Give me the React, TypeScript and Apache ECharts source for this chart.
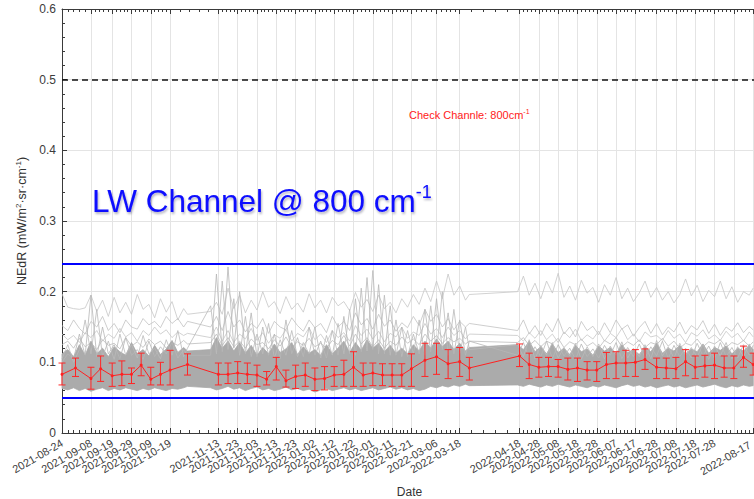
import { useEffect, useRef } from 'react';
import * as echarts from 'echarts';

const FONT = '"Liberation Sans", Arial, Helvetica, sans-serif';
const START_UTC = Date.UTC(2021, 7, 24);
const DAY_MS = 86400000;

// ---- axes ----
const xTickDates = ['2021-08-24','2021-09-08','2021-09-19','2021-09-29','2021-10-09','2021-10-19','2021-11-13','2021-11-23','2021-12-03','2021-12-13','2021-12-23','2022-01-02','2022-01-12','2022-01-22','2022-02-01','2022-02-11','2022-02-21','2022-03-06','2022-03-18','2022-04-18','2022-04-28','2022-05-08','2022-05-18','2022-05-28','2022-06-07','2022-06-17','2022-06-28','2022-07-08','2022-07-18','2022-07-28','2022-08-07','2022-08-17'];
const xMaxDay = 360;
const yMin = 0;
const yMax = 0.6;
const yStep = 0.1;

// ---- red mean with error bars ----
const redDates = ['2021-08-24','2021-08-31','2021-09-08','2021-09-13','2021-09-19','2021-09-24','2021-09-29','2021-10-04','2021-10-09','2021-10-14','2021-10-19','2021-10-28','2021-11-13','2021-11-18','2021-11-23','2021-11-28','2021-12-03','2021-12-08','2021-12-13','2021-12-18','2021-12-23','2021-12-28','2022-01-02','2022-01-07','2022-01-12','2022-01-17','2022-01-22','2022-01-27','2022-02-01','2022-02-06','2022-02-11','2022-02-16','2022-02-21','2022-02-28','2022-03-06','2022-03-12','2022-03-18','2022-03-23','2022-04-18','2022-04-23','2022-04-28','2022-05-03','2022-05-08','2022-05-13','2022-05-18','2022-05-23','2022-05-28','2022-06-02','2022-06-07','2022-06-12','2022-06-17','2022-06-22','2022-06-28','2022-07-03','2022-07-08','2022-07-13','2022-07-18','2022-07-23','2022-07-28','2022-08-02','2022-08-07','2022-08-12','2022-08-17'];
const redMean = [0.083,0.092,0.077,0.091,0.081,0.083,0.083,0.096,0.076,0.083,0.089,0.097,0.083,0.083,0.085,0.083,0.082,0.076,0.094,0.074,0.080,0.082,0.076,0.077,0.082,0.083,0.093,0.082,0.085,0.082,0.082,0.082,0.091,0.103,0.108,0.098,0.101,0.092,0.109,0.097,0.093,0.094,0.094,0.090,0.092,0.089,0.089,0.097,0.099,0.099,0.100,0.104,0.093,0.092,0.091,0.101,0.093,0.095,0.096,0.092,0.092,0.107,0.097];
const redHigh = [0.099,0.106,0.093,0.109,0.099,0.102,0.092,0.113,0.093,0.100,0.117,0.112,0.099,0.099,0.101,0.099,0.096,0.087,0.107,0.089,0.096,0.099,0.092,0.094,0.094,0.103,0.115,0.099,0.099,0.098,0.098,0.098,0.112,0.127,0.127,0.118,0.121,0.107,0.126,0.113,0.107,0.107,0.104,0.106,0.106,0.101,0.101,0.114,0.115,0.117,0.118,0.119,0.106,0.106,0.107,0.118,0.109,0.110,0.113,0.109,0.109,0.123,0.113];
const redLow = [0.068,0.080,0.062,0.073,0.066,0.067,0.070,0.081,0.068,0.068,0.068,0.082,0.068,0.070,0.070,0.070,0.066,0.068,0.075,0.065,0.063,0.066,0.060,0.061,0.066,0.066,0.066,0.066,0.067,0.067,0.066,0.066,0.066,0.080,0.083,0.077,0.080,0.075,0.094,0.077,0.079,0.080,0.079,0.075,0.073,0.075,0.073,0.077,0.077,0.080,0.080,0.090,0.077,0.077,0.077,0.081,0.077,0.079,0.077,0.079,0.077,0.093,0.082];

// ---- gray individual records (days since 2021-08-24) ----
const grayDays = [0,3,6,9,12,15,18,21,24,27,30,33,36,39,42,45,48,51,54,57,60,63,65,
  77,80,83,86,89,92,95,98,101,104,107,110,113,116,119,122,125,128,131,134,137,140,143,146,149,152,155,158,161,164,167,170,173,176,179,182,185,188,191,194,197,200,203,206,209,211,
  236,239,242,245,248,251,254,257,260,263,266,269,272,275,278,281,284,287,290,293,296,299,302,305,308,311,314,317,320,323,326,329,332,335,338,341,344,347,350,353,356,358];
const bandLow = [0.063,0.061,0.064,0.060,0.063,0.059,0.062,0.064,0.060,0.063,0.061,0.064,0.062,0.060,0.063,0.061,0.064,0.062,0.060,0.063,0.062,0.064,0.066,
  0.064,0.061,0.063,0.066,0.062,0.064,0.060,0.063,0.065,0.061,0.063,0.060,0.062,0.065,0.061,0.063,0.060,0.062,0.058,0.061,0.063,0.060,0.062,0.064,0.061,0.063,0.060,0.062,0.064,0.061,0.063,0.065,0.062,0.064,0.061,0.063,0.060,0.062,0.066,0.064,0.067,0.065,0.068,0.066,0.069,0.067,
  0.068,0.066,0.069,0.067,0.065,0.068,0.066,0.069,0.067,0.065,0.068,0.066,0.064,0.067,0.065,0.068,0.066,0.064,0.067,0.069,0.066,0.068,0.065,0.067,0.064,0.066,0.068,0.065,0.067,0.064,0.066,0.068,0.065,0.067,0.069,0.066,0.064,0.067,0.065,0.068,0.066,0.067];
const bandHigh = [0.112,0.118,0.108,0.125,0.110,0.130,0.112,0.120,0.108,0.122,0.115,0.110,0.128,0.112,0.118,0.109,0.124,0.111,0.119,0.131,0.114,0.121,0.116,
  0.118,0.135,0.120,0.130,0.116,0.128,0.113,0.124,0.110,0.121,0.112,0.126,0.114,0.119,0.128,0.111,0.122,0.113,0.118,0.110,0.125,0.112,0.120,0.130,0.114,0.128,0.117,0.132,0.120,0.127,0.115,0.124,0.113,0.120,0.112,0.125,0.116,0.130,0.120,0.133,0.122,0.130,0.118,0.127,0.116,0.121,
  0.125,0.118,0.130,0.115,0.122,0.112,0.126,0.114,0.120,0.111,0.124,0.115,0.119,0.110,0.123,0.116,0.121,0.112,0.125,0.114,0.118,0.111,0.122,0.115,0.127,0.113,0.120,0.116,0.124,0.112,0.119,0.115,0.126,0.113,0.121,0.117,0.123,0.112,0.120,0.116,0.124,0.118];
const grayTop = [0.197,0.178,0.176,0.175,0.177,0.195,0.172,0.188,0.165,0.192,0.170,0.185,0.168,0.196,0.175,0.182,0.163,0.190,0.171,0.186,0.160,0.176,0.168,
  0.172,0.185,0.168,0.205,0.176,0.195,0.170,0.188,0.174,0.200,0.178,0.186,0.169,0.193,0.175,0.184,0.171,0.197,0.177,0.188,0.170,0.192,0.180,0.186,0.173,0.199,0.178,0.189,0.172,0.195,0.176,0.185,0.170,0.190,0.178,0.196,0.182,0.205,0.186,0.215,0.190,0.225,0.195,0.208,0.188,0.196,
  0.200,0.222,0.195,0.212,0.190,0.215,0.198,0.226,0.192,0.208,0.188,0.216,0.198,0.206,0.185,0.210,0.195,0.220,0.190,0.205,0.186,0.198,0.215,0.192,0.206,0.188,0.200,0.184,0.196,0.218,0.194,0.209,0.186,0.202,0.193,0.215,0.190,0.207,0.185,0.200,0.195,0.205];
const grayMid1 = [0.152,0.145,0.160,0.148,0.140,0.158,0.150,0.165,0.145,0.155,0.142,0.160,0.150,0.147,0.162,0.153,0.158,0.149,0.165,0.155,0.162,0.150,0.158,
  0.150,0.165,0.145,0.172,0.150,0.160,0.143,0.155,0.148,0.162,0.141,0.158,0.150,0.146,0.163,0.152,0.144,0.160,0.149,0.155,0.142,0.165,0.150,0.158,0.145,0.170,0.153,0.162,0.147,0.168,0.151,0.160,0.144,0.156,0.149,0.165,0.152,0.175,0.158,0.168,0.150,0.162,0.146,0.158,0.150,0.155,
  0.145,0.160,0.140,0.152,0.138,0.155,0.143,0.162,0.140,0.150,0.136,0.158,0.145,0.151,0.139,0.156,0.142,0.160,0.147,0.153,0.137,0.149,0.158,0.141,0.155,0.139,0.150,0.143,0.157,0.140,0.152,0.146,0.159,0.141,0.154,0.138,0.150,0.144,0.156,0.142,0.151,0.146];
const grayMid2 = [0.140,0.132,0.138,0.128,0.142,0.135,0.145,0.130,0.140,0.134,0.148,0.136,0.142,0.130,0.145,0.138,0.150,0.140,0.146,0.135,0.143,0.138,0.141,
  0.135,0.150,0.130,0.145,0.128,0.140,0.133,0.148,0.131,0.142,0.127,0.139,0.134,0.146,0.130,0.141,0.136,0.149,0.132,0.140,0.128,0.145,0.135,0.142,0.130,0.152,0.138,0.147,0.133,0.144,0.129,0.141,0.136,0.150,0.134,0.143,0.138,0.155,0.140,0.148,0.135,0.150,0.138,0.145,0.133,0.140,
  0.138,0.130,0.142,0.134,0.145,0.132,0.140,0.128,0.143,0.135,0.147,0.131,0.139,0.133,0.144,0.130,0.141,0.135,0.148,0.132,0.140,0.129,0.143,0.136,0.138,0.131,0.145,0.134,0.140,0.128,0.142,0.137,0.146,0.133,0.139,0.131,0.144,0.135,0.141,0.130,0.143,0.136];
const grayUpper = [0.125,0.130,0.120,0.134,0.122,0.128,0.118,0.132,0.124,0.127,0.119,0.135,0.123,0.129,0.121,0.133,0.125,0.130,0.120,0.128,0.124,0.131,0.126,
  0.128,0.140,0.124,0.135,0.122,0.130,0.120,0.133,0.125,0.128,0.119,0.132,0.123,0.136,0.121,0.129,0.124,0.134,0.122,0.127,0.120,0.131,0.125,0.138,0.123,0.140,0.126,0.135,0.122,0.132,0.120,0.130,0.124,0.136,0.127,0.133,0.125,0.140,0.130,0.138,0.127,0.135,0.129,0.134,0.126,0.130,
  0.128,0.135,0.124,0.131,0.122,0.130,0.126,0.134,0.121,0.129,0.125,0.133,0.123,0.128,0.120,0.131,0.126,0.135,0.122,0.129,0.124,0.132,0.121,0.128,0.125,0.134,0.123,0.130,0.120,0.127,0.124,0.133,0.122,0.129,0.126,0.132,0.121,0.128,0.125,0.131,0.123,0.129];
const graySpikeA = [0.100,0.112,0.105,0.140,0.110,0.195,0.108,0.150,0.112,0.125,0.105,0.135,0.110,0.118,0.104,0.130,0.108,0.122,0.112,0.128,0.106,0.118,0.110,
  0.110,0.225,0.115,0.235,0.120,0.200,0.112,0.170,0.108,0.150,0.110,0.140,0.105,0.160,0.112,0.135,0.108,0.150,0.110,0.130,0.106,0.145,0.110,0.165,0.112,0.190,0.115,0.220,0.118,0.210,0.112,0.180,0.110,0.150,0.108,0.140,0.112,0.175,0.115,0.190,0.118,0.170,0.112,0.160,0.110,0.130,
  0.110,0.128,0.106,0.122,0.108,0.130,0.105,0.125,0.109,0.120,0.104,0.126,0.108,0.119,0.106,0.124,0.110,0.128,0.105,0.121,0.108,0.126,0.106,0.122,0.109,0.130,0.105,0.124,0.108,0.120,0.106,0.127,0.109,0.123,0.105,0.128,0.108,0.121,0.106,0.125,0.110,0.124];
const graySpikeB = [0.105,0.125,0.100,0.118,0.160,0.112,0.175,0.108,0.130,0.104,0.140,0.110,0.125,0.106,0.138,0.112,0.120,0.105,0.132,0.110,0.145,0.108,0.120,
  0.180,0.112,0.215,0.118,0.190,0.110,0.165,0.108,0.140,0.112,0.155,0.106,0.132,0.110,0.145,0.108,0.128,0.112,0.150,0.106,0.138,0.110,0.155,0.112,0.175,0.110,0.205,0.116,0.230,0.112,0.195,0.110,0.160,0.108,0.145,0.112,0.160,0.110,0.180,0.114,0.200,0.110,0.175,0.112,0.150,0.118,
  0.125,0.108,0.132,0.105,0.124,0.110,0.128,0.106,0.121,0.109,0.127,0.104,0.122,0.108,0.126,0.105,0.123,0.110,0.129,0.106,0.120,0.108,0.125,0.105,0.131,0.109,0.122,0.106,0.127,0.110,0.121,0.107,0.126,0.104,0.123,0.109,0.128,0.105,0.122,0.108,0.126,0.110];

// ---- reference lines ----
const blueLimits = [0.05, 0.237];
const specLimit = 0.5;

const titleText = 'LW Channel @ 800 cm';
const noteText = 'Check Channle: 800cm';

const W = 754;
const H = 499;

function dayOf(s: string): number {
  const [y, m, d] = s.split('-').map(Number);
  return Math.round((Date.UTC(y, m - 1, d) - START_UTC) / DAY_MS);
}
function fmtDay(day: number): string {
  const dt = new Date(START_UTC + Math.round(day) * DAY_MS);
  const mm = String(dt.getUTCMonth() + 1).padStart(2, '0');
  const dd = String(dt.getUTCDate()).padStart(2, '0');
  return `${dt.getUTCFullYear()}-${mm}-${dd}`;
}

export default function App() {
  const ref = useRef<HTMLDivElement>(null);
  useEffect(() => {
    if (!ref.current) return;
    document.body.style.margin = '0';
    const chart = echarts.init(ref.current, undefined, { renderer: 'svg', width: W, height: H });

    const tickDays = xTickDates.map(dayOf);
    const lastTick = tickDays[tickDays.length - 1];
    const minorDays: number[] = [];
    for (let i = 0; i < tickDays.length - 1; i++) {
      const a = tickDays[i], b = tickDays[i + 1];
      for (let k = 1; k < 5; k++) minorDays.push(a + ((b - a) * k) / 5);
    }
    const redDays = redDates.map(dayOf);
    const pairs = (arr: number[]) => grayDays.map((d, i) => [d, arr[i]]);

    const axisColor = '#3a3a3a';
    const baseX = {
      type: 'value' as const,
      min: 0,
      max: xMaxDay,
      splitLine: { show: false },
      axisLabel: { show: false },
    };

    const grayLine = (arr: number[], color: string, extra: any = {}) => ({
      type: 'line',
      data: pairs(arr),
      symbol: 'none',
      silent: true,
      lineStyle: { color, width: 0.8 },
      z: 2,
      ...extra,
    });

    const labelStyle = { fontFamily: FONT, fontSize: 11, color: '#3c3c3c' };

    chart.setOption({
      animation: false,
      backgroundColor: '#ffffff',
      grid: { left: 62, right: -3, top: 9, bottom: 66, containLabel: false, outerBoundsMode: 'none' },
      xAxis: [
        {
          ...baseX,
          position: 'bottom',
          name: 'Date',
          nameLocation: 'middle',
          nameGap: 53,
          nameTextStyle: { fontFamily: FONT, fontSize: 12, color: '#333' },
          axisLine: { show: true, onZero: false, lineStyle: { color: axisColor, width: 1 } },
          axisTick: { show: true, inside: true, length: 5, customValues: tickDays, lineStyle: { color: axisColor } },
          axisLabel: {
            show: true,
            customValues: tickDays,
            showMinLabel: true,
            showMaxLabel: true,
            rotate: 30,
            margin: 9,
            ...labelStyle,
            rich: {
              e: { ...labelStyle, padding: [0, 4, 0, 0] },
            },
            formatter: (v: number) => (Math.round(v) === lastTick ? `{e|${fmtDay(v)}}` : fmtDay(v)),
          },
        },
        {
          ...baseX,
          position: 'bottom',
          axisLine: { show: false, onZero: false },
          axisTick: { show: true, inside: true, length: 3, customValues: minorDays, lineStyle: { color: axisColor } },
        },
        {
          ...baseX,
          position: 'top',
          axisLine: { show: true, onZero: false, lineStyle: { color: axisColor, width: 1 } },
          axisTick: { show: true, inside: true, length: 5, customValues: tickDays, lineStyle: { color: axisColor } },
        },
        {
          ...baseX,
          position: 'top',
          axisLine: { show: false, onZero: false },
          axisTick: { show: true, inside: true, length: 3, customValues: minorDays, lineStyle: { color: axisColor } },
        },
      ],
      yAxis: {
        type: 'value',
        min: yMin,
        max: yMax,
        interval: yStep,
        name: '{a|NEdR (mW/m}{s|2}{a|·sr·cm}{s|-1}{a|)}',
        nameLocation: 'middle',
        nameGap: 25,
        nameTextStyle: {
          fontFamily: FONT,
          color: '#333',
          rich: {
            a: { fontFamily: FONT, fontSize: 12.5, lineHeight: 14, color: '#333' },
            s: { fontFamily: FONT, fontSize: 8, lineHeight: 8, verticalAlign: 'top', color: '#333' },
          },
        },
        axisLine: { show: true, lineStyle: { color: axisColor, width: 1 } },
        axisTick: { show: true, inside: true, length: 5, lineStyle: { color: axisColor } },
        minorTick: { show: true, splitNumber: 5, length: 3, lineStyle: { color: axisColor } },
        axisLabel: {
          fontFamily: FONT,
          fontSize: 12,
          color: '#3c3c3c',
          margin: 6,
          formatter: (v: number) => (v === 0 ? '0' : v.toFixed(1)),
        },
        splitLine: { show: true, lineStyle: { color: '#e4e4e4', width: 1 } },
      },
      graphic: [
        {
          type: 'text',
          z: 50,
          style: {
            x: 92,
            y: 201,
            align: 'left',
            verticalAlign: 'middle',
            text: `{a|${titleText}}{s|-1}`,
            fill: '#0a0aff',
            textShadowColor: 'rgba(0,0,40,0.3)',
            textShadowBlur: 2,
            textShadowOffsetX: 1,
            textShadowOffsetY: 2,
            rich: {
              a: { fontFamily: FONT, fontSize: 31.5, lineHeight: 36, fill: '#0a0aff' },
              s: { fontFamily: FONT, fontSize: 18, lineHeight: 18, verticalAlign: 'top', fill: '#0a0aff' },
            },
          },
        },
        {
          type: 'text',
          z: 50,
          style: {
            x: 409,
            y: 115,
            align: 'left',
            verticalAlign: 'middle',
            text: `{a|${noteText}}{s|-1}`,
            fill: '#ff1a1a',
            rich: {
              a: { fontFamily: FONT, fontSize: 11, lineHeight: 14, fill: '#ff1a1a' },
              s: { fontFamily: FONT, fontSize: 7, lineHeight: 7, verticalAlign: 'top', fill: '#ff1a1a' },
            },
          },
        },
      ],
      series: [
        grayLine(grayTop, '#c6c6c6', {
          markLine: {
            silent: true,
            symbol: ['none', 'none'],
            label: { show: false },
            lineStyle: { color: '#e4e4e4', width: 1, type: 'solid' },
            data: tickDays.map((d) => ({ xAxis: d })),
            z: 0,
          },
        }),
        grayLine(grayMid1, '#c2c2c2'),
        grayLine(grayMid2, '#c6c6c6'),
        grayLine(grayUpper, '#bdbdbd'),
        {
          type: 'custom',
          name: 'band',
          silent: true,
          z: 3,
          data: [[grayDays[0], bandLow[0]]],
          renderItem: (params: any, api: any) => {
            const top = grayDays.map((d, i) => api.coord([d, bandHigh[i]]));
            const bot = grayDays.map((d, i) => api.coord([d, bandLow[i]])).reverse();
            return {
              type: 'polygon',
              shape: { points: top.concat(bot) },
              style: { fill: '#ababab', stroke: '#a8a8a8', lineWidth: 0.8 },
            };
          },
        },
        grayLine(graySpikeA, '#b6b6b6', { z: 4 }),
        grayLine(graySpikeB, '#bababa', { z: 4 }),
        {
          type: 'custom',
          name: 'errorBars',
          silent: true,
          z: 6,
          data: redDays.map((d, i) => [d, redLow[i], redHigh[i]]),
          encode: { x: 0, y: [1, 2] },
          renderItem: (params: any, api: any) => {
            const x = api.value(0);
            const pLo = api.coord([x, api.value(1)]);
            const pHi = api.coord([x, api.value(2)]);
            const cap = 3.5;
            const st = { stroke: '#ff2626', lineWidth: 1 };
            return {
              type: 'group',
              children: [
                { type: 'line', shape: { x1: pLo[0], y1: pLo[1], x2: pHi[0], y2: pHi[1] }, style: st },
                { type: 'line', shape: { x1: pLo[0] - cap, y1: pLo[1], x2: pLo[0] + cap, y2: pLo[1] }, style: st },
                { type: 'line', shape: { x1: pHi[0] - cap, y1: pHi[1], x2: pHi[0] + cap, y2: pHi[1] }, style: st },
              ],
            };
          },
        },
        {
          type: 'line',
          name: 'mean',
          data: redDays.map((d, i) => [d, redMean[i]]),
          symbol: 'circle',
          symbolSize: 3,
          silent: true,
          itemStyle: { color: '#ff2020' },
          lineStyle: { color: '#ff2020', width: 1 },
          z: 7,
          markLine: {
            silent: true,
            symbol: ['none', 'none'],
            label: { show: false },
            data: [
              ...blueLimits.map((v) => ({ yAxis: v, lineStyle: { color: '#0000ff', width: 2, type: 'solid' } })),
              { yAxis: specLimit, lineStyle: { color: '#111111', width: 1.5, type: [6, 4] } },
            ],
          },
        },
      ],
    });
    return () => chart.dispose();
  }, []);
  return <div ref={ref} style={{ position: 'absolute', left: 0, top: 0, width: W, height: H }} />;
}
